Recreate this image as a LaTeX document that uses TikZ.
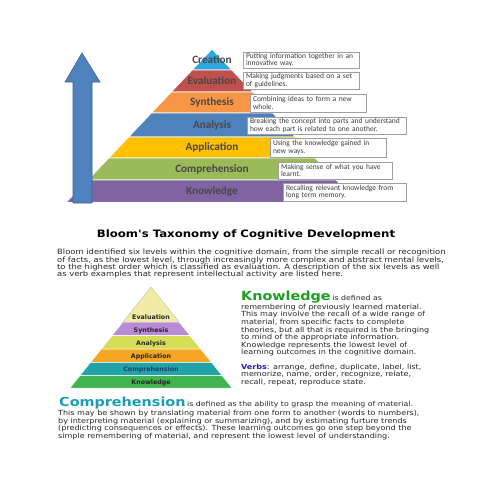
\documentclass[tikz,border=0pt]{standalone}
\usepackage{fontspec}
\setmainfont{DejaVu Sans}
\newfontfamily\carl{Carlito}
\newfontfamily\dvs{DejaVu Sans}
\newfontfamily\verd[FakeStretch=1.15]{DejaVu Sans}
\newcommand\bigheadfont{\verd\bfseries\fontsize{12.5}{13}\selectfont}
\definecolor{cCre}{HTML}{2BA9DF}
\definecolor{cEva}{HTML}{C0504D}
\definecolor{cSyn}{HTML}{F79646}
\definecolor{cAna}{HTML}{4F81BD}
\definecolor{cApp}{HTML}{FFC000}
\definecolor{cCom}{HTML}{9BBB59}
\definecolor{cKno}{HTML}{8064A2}
\definecolor{arrowblue}{HTML}{4F81BD}
\definecolor{arrowdark}{HTML}{3A6396}
\definecolor{lTop}{HTML}{F0ECA8}
\definecolor{lSyn}{HTML}{B98AD6}
\definecolor{lAna}{HTML}{D5DD55}
\definecolor{lApp}{HTML}{F5A623}
\definecolor{lCom}{HTML}{22A3A8}
\definecolor{lKno}{HTML}{40B450}
\definecolor{txt}{HTML}{262626}
\definecolor{kgreen}{HTML}{1E9E1E}
\definecolor{cteal}{HTML}{1C9CB2}
\definecolor{vblue}{HTML}{2323A8}
\definecolor{navy}{HTML}{1C3F6E}
\begin{document}
\begin{tikzpicture}[x=1pt,y=-1pt,
  band/.style={draw=white, line width=0.8pt},
  lband/.style={draw=white, line width=0.5pt},
  uplabel/.style={font=\carl\bfseries\fontsize{11.2}{12}\selectfont, text=txt!85, inner sep=0pt},
  descbox/.style={draw=gray!75, fill=white, line width=0.5pt, align=left, inner xsep=3pt, inner ysep=1pt,
     font=\carl\fontsize{7.5}{7.7}\selectfont, text=txt!90},
  lolabel/.style={font=\dvs\bfseries\fontsize{6.3}{6.8}\selectfont, text=txt, inner sep=0pt},
  para/.style={font=\verd\fontsize{7.3}{7.3}\selectfont, text=txt, align=left, inner sep=0pt, anchor=north west},
  kpara/.style={font=\verd\fontsize{7}{7.6}\selectfont, text=txt, align=left, inner sep=0pt, anchor=north west},
  cpara/.style={font=\verd\fontsize{7}{7.5}\selectfont, text=txt, align=left, inner sep=0pt, anchor=north west}]
\useasboundingbox (0,0) rectangle (495,495);
\fill[white] (0,0) rectangle (495,495);

% upper pyramid
\path[band, fill=cCre] (212,49) -- (231.9,70) -- (192.1,70) -- cycle;
\path[band, fill=cEva] (192.1,70) -- (231.9,70) -- (252.8,92) -- (171.2,92) -- cycle;
\path[band, fill=cSyn] (171.2,92) -- (252.8,92) -- (272.7,113) -- (151.3,113) -- cycle;
\path[band, fill=cAna] (151.3,113) -- (272.7,113) -- (295.4,137) -- (128.6,137) -- cycle;
\path[band, fill=cApp] (128.6,137) -- (295.4,137) -- (315.3,158) -- (108.7,158) -- cycle;
\path[band, fill=cCom] (108.7,158) -- (315.3,158) -- (336.2,180) -- (87.8,180) -- cycle;
\path[band, fill=cKno] (87.8,180) -- (336.2,180) -- (357,202.5) -- (66,202.5) -- cycle;

% arrow
\path[fill=arrowblue, draw=arrowdark, line width=0.6pt]
  (82,53) -- (100,82) -- (92,82) -- (92,203) -- (73,203) -- (73,82) -- (65,82) -- cycle;

\node[uplabel] (ucre) at (212,59.5) {Creation};
\node[uplabel] (ueva) at (212,81) {Evaluation};
\node[uplabel] (usyn) at (212,102.7) {Synthesis};
\node[uplabel] (uana) at (212,125) {Analysis};
\node[uplabel] (uapp) at (212,147.3) {Application};
\node[uplabel] (ucom) at (212,169.3) {Comprehension};
\node[uplabel] (ukno) at (212,191.7) {Knowledge};

\node[descbox, minimum height=16pt, text width=110pt] (bcre) at (301,60) {Putting information together in an\\innovative way.};
\node[descbox, minimum height=17pt, text width=110pt] (beva) at (301,80.5) {Making judgments based on a set\\of guidelines.};
\node[descbox, minimum height=18pt, text width=110pt] (bsyn) at (308,103) {Combining ideas to form a new\\whole.};
\node[descbox, minimum height=17pt, text width=153pt] (bana) at (326.5,125.5) {Breaking the concept into parts and understand\\how each part is related to one another.};
\node[descbox, minimum height=19pt, text width=110pt] (bapp) at (328,147.5) {Using the knowledge gained in\\new ways.};
\node[descbox, minimum height=17pt, text width=108pt] (bcom) at (335,170.5) {Making sense of what you have\\learnt.};
\node[descbox, minimum height=18pt, text width=117pt] (bkno) at (344.5,192) {Recalling relevant knowledge from\\long term memory.};

% title and intro
\node[font=\verd\bfseries\fontsize{10.2}{11}\selectfont, text=black, inner sep=0pt] (title) at (246,235) {Bloom's Taxonomy of Cognitive Development};
\node[para] (intro) at (57,249.2) {Bloom identified six levels within the cognitive domain, from the simple recall or recognition\\
of facts, as the lowest level, through increasingly more complex and abstract mental levels,\\
to the highest order which is classified as evaluation. A description of the six levels as well\\
as verb examples that represent intellectual activity are listed here.};

% lower pyramid
\path[lband, fill=lTop, draw=lTop!70!gray] (151,287) -- (179.1,322) -- (122.9,322) -- cycle;
\path[lband, fill=lSyn] (122.9,322) -- (179.1,322) -- (189.9,335.5) -- (112.1,335.5) -- cycle;
\path[lband, fill=lAna] (112.1,335.5) -- (189.9,335.5) -- (200.7,349) -- (101.3,349) -- cycle;
\path[lband, fill=lApp] (101.3,349) -- (200.7,349) -- (211.4,362.3) -- (90.6,362.3) -- cycle;
\path[lband, fill=lCom] (90.6,362.3) -- (211.4,362.3) -- (222,375.5) -- (80,375.5) -- cycle;
\path[lband, fill=lKno] (80,375.5) -- (222,375.5) -- (232,388) -- (70,388) -- cycle;
\node[lolabel] (leva) at (151,317.3) {Evaluation};
\node[lolabel] (lsyn) at (151,330.5) {Synthesis};
\node[lolabel] (lana) at (151,343.3) {Analysis};
\node[lolabel] (lapp) at (151,356.7) {Application};
\node[lolabel, text=navy] (lcom) at (151,370) {Comprehension};
\node[lolabel] (lkno) at (151,382.7) {Knowledge};

% knowledge text
\node[anchor=base west, inner sep=0pt, text=txt] (khead) at (241,300.3)
  {{\bigheadfont\textcolor{kgreen}{Knowledge}}\,{\verd\fontsize{6.8}{7}\selectfont is defined as}};
\node[kpara] (kbody) at (241,303.8) {remembering of previously learned material.\\
This may involve the recall of a wide range of\\
material, from specific facts to complete\\
theories, but all that is required is the bringing\\
to mind of the appropriate information.\\
Knowledge represents the lowest level of\\
learning outcomes in the cognitive domain.};
\node[kpara] (kverbs) at (241,363.8) {\textcolor{vblue}{\bfseries Verbs}: arrange, define, duplicate, label, list,\\
memorize, name, order, recognize, relate,\\
recall, repeat, reproduce state.};

% comprehension text
\node[anchor=base west, inner sep=0pt, text=txt] (chead) at (59,406.5)
  {{\bigheadfont\textcolor{cteal}{Comprehension}}\,{\verd\fontsize{6.8}{7}\selectfont is defined as the ability to grasp the meaning of material.}};
\node[cpara] (cbody) at (58,410.2) {This may be shown by translating material from one form to another (words to numbers),\\
by interpreting material (explaining or summarizing), and by estimating furture trends\\
(predicting consequences or effects). These learning outcomes go one step beyond the\\
simple remembering of material, and represent the lowest level of understanding.};
\end{tikzpicture}
\end{document}
